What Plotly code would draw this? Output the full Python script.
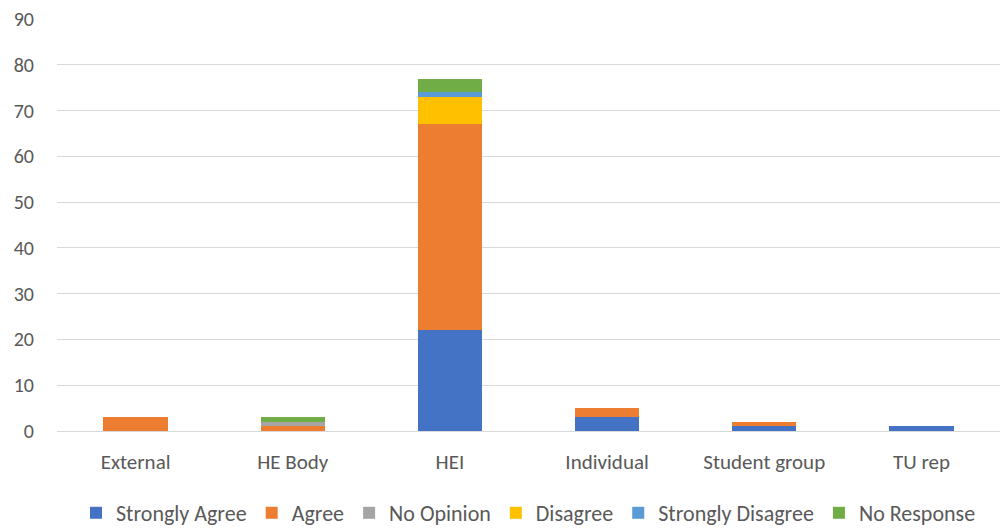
import plotly.graph_objects as go

categories = ["External", "HE Body", "HEI", "Individual", "Student group", "TU rep"]
strongly_agree = [0, 0, 22, 3, 1, 1]
agree = [3, 1, 45, 2, 1, 0]
no_opinion = [0, 1, 0, 0, 0, 0]
disagree = [0, 0, 6, 0, 0, 0]
strongly_disagree = [0, 0, 1, 0, 0, 0]
no_response = [0, 1, 3, 0, 0, 0]

series = [
    ("Strongly Agree", strongly_agree, "#4472C4"),
    ("Agree", agree, "#ED7D31"),
    ("No Opinion", no_opinion, "#A5A5A5"),
    ("Disagree", disagree, "#FFC000"),
    ("Strongly Disagree", strongly_disagree, "#5B9BD5"),
    ("No Response", no_response, "#70AD47"),
]

fig = go.Figure()
for name, vals, color in series:
    fig.add_trace(go.Bar(
        x=categories, y=vals, name=name,
        marker=dict(color=color, line=dict(width=0)),
    ))

font = "Carlito, Calibri, Lato, sans-serif"
text_color = "#595959"
fig.update_layout(
    barmode="stack",
    bargap=0.59,
    width=1006, height=529,
    margin=dict(l=57, r=6, t=19, b=98, autoexpand=False),
    paper_bgcolor="white", plot_bgcolor="white",
    font=dict(family=font, size=21, color=text_color),
    legend=dict(orientation="h", x=0.5, xanchor="center",
                yref="paper", y=-0.199, yanchor="middle",
                font=dict(size=22, color=text_color), traceorder="normal",
                itemwidth=30, tracegroupgap=0),
    showlegend=True,
)
fig.update_yaxes(range=[0, 90], dtick=10, showgrid=True, gridcolor="#D9D9D9", gridwidth=1,
                 zeroline=False, showline=False, ticks="", ticklabelstandoff=22,
                 tickfont=dict(size=20, color=text_color))
fig.update_xaxes(showline=True, linecolor="#D9D9D9", linewidth=1, ticks="",
                 tickfont=dict(size=21, color=text_color), ticklabelstandoff=12)

fig.write_html("out.html")
